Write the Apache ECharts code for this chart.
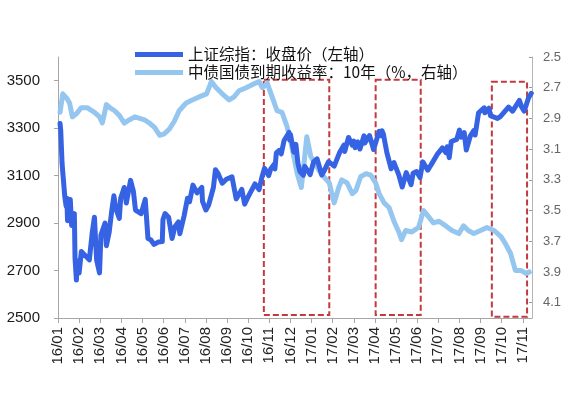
<!DOCTYPE html>
<html><head><meta charset="utf-8">
<script src="https://cdn.jsdelivr.net/npm/echarts@6/dist/echarts.min.js"></script>
<style>html,body{margin:0;padding:0;background:#fff}#c{width:574px;height:393px}</style>
</head><body><div id="c"></div>
<script>
const monthLabels = ['16/01','16/02','16/03','16/04','16/05','16/06','16/07','16/08','16/09','16/10','16/11','16/12',
  '17/01','17/02','17/03','17/04','17/05','17/06','17/07','17/08','17/09','17/10','17/11'];
const leftTicks = [2500, 2700, 2900, 3100, 3300, 3500];
const rightTicks = [2.5, 2.7, 2.9, 3.1, 3.3, 3.5, 3.7, 3.9, 4.1];
const axisStartDate = '2016-01-01';
const axisEndDate = '2017-11-14';

const shName = '上证综指：收盘价（左轴）';
const shDates = ['2016-01-04','2016-01-05','2016-01-07','2016-01-11','2016-01-13','2016-01-14','2016-01-15','2016-01-19','2016-01-21','2016-01-25','2016-01-26','2016-01-28','2016-01-29',
 '2016-02-01','2016-02-04','2016-02-15','2016-02-19','2016-02-22','2016-02-24','2016-02-25','2016-02-29','2016-03-02','2016-03-08','2016-03-10','2016-03-14','2016-03-18','2016-03-21','2016-03-24','2016-03-29','2016-03-31',
 '2016-04-05','2016-04-08','2016-04-14','2016-04-18','2016-04-21','2016-04-29','2016-05-05','2016-05-09','2016-05-13','2016-05-18','2016-05-24','2016-05-30','2016-05-31',
 '2016-06-03','2016-06-08','2016-06-13','2016-06-17','2016-06-22','2016-06-24','2016-06-30','2016-07-05','2016-07-08','2016-07-13','2016-07-19','2016-07-26','2016-07-27',
 '2016-08-01','2016-08-05','2016-08-12','2016-08-15','2016-08-19','2016-08-25','2016-08-31','2016-09-08','2016-09-14','2016-09-22','2016-09-26','2016-09-30',
 '2016-10-11','2016-10-17','2016-10-21','2016-10-25','2016-10-31','2016-11-03','2016-11-08','2016-11-09','2016-11-11','2016-11-15','2016-11-18','2016-11-22','2016-11-29','2016-11-30',
 '2016-12-01','2016-12-06','2016-12-09','2016-12-12','2016-12-15','2016-12-20','2016-12-22','2016-12-30',
 '2017-01-04','2017-01-09','2017-01-16','2017-01-20','2017-01-26','2017-02-03','2017-02-10','2017-02-16','2017-02-17','2017-02-22','2017-02-27',
 '2017-03-01','2017-03-03','2017-03-07','2017-03-10','2017-03-16','2017-03-17','2017-03-24','2017-03-30','2017-04-07','2017-04-10','2017-04-11','2017-04-13','2017-04-18','2017-04-24','2017-04-28',
 '2017-05-05','2017-05-10','2017-05-16','2017-05-23','2017-05-26','2017-05-31','2017-06-05','2017-06-09','2017-06-16','2017-06-23','2017-06-30',
 '2017-07-07','2017-07-12','2017-07-14','2017-07-17','2017-07-20','2017-07-28','2017-08-01','2017-08-04','2017-08-08','2017-08-11','2017-08-17','2017-08-22','2017-08-24','2017-08-29',
 '2017-09-06','2017-09-07','2017-09-13','2017-09-15','2017-09-25','2017-09-29','2017-10-11','2017-10-17','2017-10-27','2017-10-30','2017-11-03','2017-11-09','2017-11-13'];
const shClose = [3320,3290,3150,3010,2970,3005,2910,3000,2890,2940,2750,2660,2740,
 2690,2780,2745,2860,2925,2920,2745,2690,2850,2900,2805,2860,2955,3015,2960,2920,3005,
 3050,2985,3080,3035,2955,2940,3000,2835,2830,2810,2820,2822,2915,
 2940,2925,2835,2885,2905,2855,2930,3005,2990,3060,3027,3050,2992,
 2955,2976,3050,3125,3108,3068,3085,3095,3002,3042,2980,3005,
 3065,3041,3091,3131,3100,3128,3148,3128,3196,3206,3192,3248,3282,3250,
 3273,3199,3232,3152,3117,3102,3139,3104,
 3158,3171,3103,3123,3159,3140,3196,3229,3202,3261,3228,
 3246,3218,3242,3212,3268,3237,3269,3210,3287,3269,3289,3275,3196,3129,3155,
 3103,3052,3113,3062,3110,3117,3092,3158,3123,3157,3192,
 3217,3197,3222,3176,3244,3253,3292,3262,3281,3208,3268,3290,3271,3365,
 3386,3365,3384,3353,3341,3349,3389,3372,3417,3391,3372,3427,3447];

const cgbName = '中债国债到期收益率：10年（%，右轴）';
const cgbDates = ['2016-01-04','2016-01-08','2016-01-14','2016-01-18','2016-01-22','2016-01-28','2016-02-04','2016-02-12','2016-02-22','2016-02-29',
 '2016-03-04','2016-03-10','2016-03-15','2016-03-22','2016-03-29','2016-04-05','2016-04-12','2016-04-20','2016-04-27','2016-05-04','2016-05-11','2016-05-19','2016-05-26',
 '2016-06-02','2016-06-09','2016-06-16','2016-06-23','2016-07-03','2016-07-12','2016-07-22','2016-08-02','2016-08-09','2016-08-16','2016-08-25',
 '2016-09-04','2016-09-11','2016-09-18','2016-09-28','2016-10-07','2016-10-17','2016-10-22','2016-10-29','2016-11-05','2016-11-12','2016-11-19','2016-11-26',
 '2016-12-02','2016-12-06','2016-12-11','2016-12-17','2016-12-21','2016-12-25','2016-12-31','2017-01-05','2017-01-12','2017-01-19','2017-01-27',
 '2017-02-03','2017-02-09','2017-02-13','2017-02-20','2017-02-27','2017-03-04','2017-03-11','2017-03-19','2017-03-26','2017-04-02','2017-04-07','2017-04-14','2017-04-21','2017-04-28',
 '2017-05-05','2017-05-09','2017-05-15','2017-05-24','2017-06-03','2017-06-10','2017-06-17','2017-06-24','2017-07-02','2017-07-12','2017-07-21','2017-07-31',
 '2017-08-07','2017-08-14','2017-08-22','2017-09-01','2017-09-10','2017-09-20','2017-09-30','2017-10-07','2017-10-14','2017-10-21','2017-10-29','2017-11-06','2017-11-10'];
const cgbYield = [2.86,2.74,2.77,2.80,2.89,2.87,2.83,2.83,2.86,2.89,
 2.93,2.81,2.83,2.85,2.88,2.93,2.91,2.89,2.90,2.91,2.93,2.96,3.01,
 3.00,2.97,2.92,2.85,2.80,2.78,2.76,2.74,2.66,2.70,2.74,
 2.78,2.76,2.72,2.70,2.68,2.66,2.70,2.67,2.76,2.85,2.86,2.95,
 3.06,3.15,3.26,3.35,3.19,3.02,3.15,3.18,3.24,3.28,3.32,
 3.45,3.35,3.30,3.32,3.39,3.37,3.28,3.26,3.27,3.32,3.39,3.45,3.48,3.57,
 3.64,3.69,3.63,3.64,3.61,3.50,3.54,3.58,3.57,3.60,3.63,3.65,
 3.60,3.63,3.65,3.63,3.61,3.63,3.67,3.72,3.78,3.89,3.89,3.91,3.90];

// highlighted periods (dashed boxes), in date / left-axis units
const boxStart = ['2016-10-24','2017-04-02','2017-09-17'];
const boxEnd = ['2017-01-27','2017-06-06','2017-11-07'];
const boxTop = [3504, 3504, 3496];
const boxBottom = [2513, 2513, 2505];

function monthPos(s) {
  const [y, m, d] = s.split('-').map(Number);
  const dim = new Date(y, m, 0).getDate();
  return (y - 2016) * 12 + (m - 1) + (d - 1) / dim;
}
const toPairs = (ds, vs) => ds.map((d, i) => [monthPos(d), vs[i]]);

const chart = echarts.init(document.getElementById('c'), null, {renderer: 'canvas'});
const axisGray = '#a6a6a6';
chart.setOption({
  animation: false,
  backgroundColor: '#ffffff',
  grid: {left: 58, right: 42, top: 57, bottom: 75, containLabel: false},
  legend: {
    orient: 'vertical', left: 130, top: 41,
    data: [shName, cgbName],
    icon: 'rect', itemWidth: 48, itemHeight: 5, itemGap: 1,
    textStyle: {fontFamily: 'Noto Sans CJK SC', fontSize: 15.5, lineHeight: 17, color: '#111'}
  },
  xAxis: {
    type: 'value', min: monthPos(axisStartDate), max: monthPos(axisEndDate), interval: 1,
    splitLine: {show: false},
    axisLine: {lineStyle: {color: axisGray, width: 1}},
    axisTick: {show: true, length: 5, lineStyle: {color: axisGray}, customValues: monthLabels.map((_, i) => i)},
    axisLabel: {
      rotate: 90, margin: 9, fontFamily: 'Liberation Sans', fontSize: 15, color: '#222',
      customValues: monthLabels.map((_, i) => i),
      formatter: v => { const i = Math.round(v); return Math.abs(v - i) < 1e-6 && monthLabels[i] ? monthLabels[i] : ''; }
    }
  },
  yAxis: [{
    type: 'value', min: 2500, max: 3600, interval: 100, position: 'left',
    splitLine: {show: false},
    axisLine: {show: true, lineStyle: {color: axisGray}},
    axisTick: {show: true, length: 4, lineStyle: {color: axisGray}, customValues: leftTicks},
    axisLabel: {margin: 18, fontFamily: 'Liberation Sans', fontSize: 15, color: '#1a1a1a', customValues: leftTicks,
      formatter: v => leftTicks.includes(v) ? String(v) : ''}
  }, {
    type: 'value', min: 2.5, max: 4.2, interval: 0.1, inverse: true, position: 'right',
    splitLine: {show: false},
    axisLine: {show: true, lineStyle: {color: '#b5b5b5'}},
    axisTick: {show: true, inside: true, length: 3, lineStyle: {color: '#999'}, customValues: rightTicks},
    axisLabel: {margin: 11, fontFamily: 'Liberation Sans', fontSize: 13, color: '#666', customValues: rightTicks,
      formatter: v => rightTicks.some(t => Math.abs(t - v) < 1e-6) ? v.toFixed(1) : ''}
  }],
  series: [{
    name: shName, type: 'line', yAxisIndex: 0, z: 4,
    data: toPairs(shDates, shClose), showSymbol: false, symbol: 'none',
    color: '#3563E3',
    lineStyle: {width: 5, color: '#3563E3', join: 'round', cap: 'round'}
  }, {
    name: cgbName, type: 'line', yAxisIndex: 1, z: 3,
    data: toPairs(cgbDates, cgbYield), showSymbol: false, symbol: 'none',
    color: '#95C6EF',
    lineStyle: {width: 5, color: '#95C6EF', join: 'round', cap: 'round'}
  }, {
    name: 'periods', type: 'line', yAxisIndex: 0, z: 10, data: [],
    markArea: {
      silent: true,
      label: {show: false},
      itemStyle: {color: 'rgba(0,0,0,0)', borderColor: '#C23A3F', borderWidth: 2, borderType: [6, 3]},
      data: boxStart.map((s, i) => [
        {xAxis: monthPos(s), yAxis: boxTop[i]},
        {xAxis: monthPos(boxEnd[i]), yAxis: boxBottom[i]}
      ])
    }
  }]
});
</script></body></html>
